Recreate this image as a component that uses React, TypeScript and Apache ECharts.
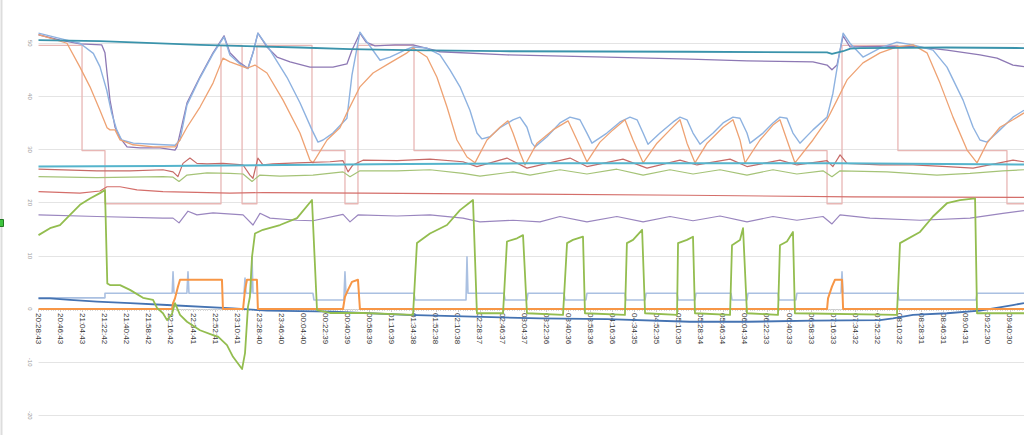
import React, { useEffect, useRef } from "react";
import * as echarts from "echarts";

const TICK_LABELS = [
  "20:28:43","20:46:43","21:04:43","21:22:42","21:40:42","21:58:42","22:16:42","22:34:41","22:52:41","23:10:41",
  "23:28:40","23:46:40","00:04:40","00:22:39","00:40:39","00:58:39","01:16:39","01:34:38","01:52:38","02:10:38",
  "02:28:37","02:46:37","03:04:37","03:22:36","03:40:36","03:58:36","04:16:36","04:34:35","04:52:35","05:10:35",
  "05:28:34","05:46:34","06:04:34","06:22:33","06:40:33","06:58:33","07:16:33","07:34:32","07:52:32","08:10:32",
  "08:28:31","08:46:31","09:04:31","09:22:30","09:40:30",
];
const TICK_STEP_MIN = 18;
const X_MAX_MIN = 803.6;

// each pair: [minutes since 20:28:43, value]
const TEAL_TOP: [number, number][] = [
  [0,50.6],[50,50.4],[131.7,49.7],[213.2,49.2],[254,48.9],[300,48.7],[376,48.5],[531,48.4],[643,48.3],
  [647,48.0],[656,48.5],[662,49.0],[670,49.1],[740,49.2],[803.6,49.1],
];

const PURPLE_TOP: [number, number][] = [
  [0,51.6],[17.5,50.6],[33.8,49.9],[51.5,49.7],[54.2,48.2],[55.9,44.4],[58.3,39.3],[62.4,34.2],[66.5,32.2],
  [72.2,30.5],[82.8,30.3],[99.1,30.3],[111.3,29.9],[112.9,30.5],[121.1,38.8],[131.7,43.7],[142.3,48.2],
  [151.3,51.4],[156.1,48.2],[164.3,46.3],[170.8,45.3],[174.9,48.2],[178.9,51.9],[186.3,49.3],[194.5,47.4],
  [205.1,46.5],[221.4,45.5],[240.1,45.5],[251.5,46.1],[255.6,48.7],[262.1,51.9],[267.1,50.2],[274.4,49.5],
  [290.7,49.7],[305.4,49.7],[327.4,48.4],[382,47.8],[463.5,47.4],[531.2,47.0],[577.7,46.7],[631.5,46.5],
  [643,45.9],[647,45.0],[651.1,45.9],[656.1,51.4],[661.7,49.3],[686.2,49.4],[713.1,49.4],[740.8,48.7],
  [767.7,47.8],[781.6,47.2],[794.6,45.9],[803.6,45.6],
];

const LIGHTBLUE_TOP: [number, number][] = [
  [0,51.9],[23,50.6],[33.8,50.0],[44.7,48.1],[50.1,45.6],[55.6,41.2],[59.7,36.8],[63.8,33.7],[67.8,31.8],
  [77.3,31.2],[93.6,31.0],[111.3,30.8],[115.4,31.8],[121.1,38.4],[131.7,43.5],[142.3,48.0],[151.3,51.2],
  [156.1,47.8],[164.3,46.1],[170.8,45.2],[174.9,48.2],[178.9,51.9],[188.8,48.7],[202.6,43.6],[213.2,38.8],
  [223,33.7],[227.9,31.4],[232,31.8],[240.1,33.1],[251.5,35.9],[255.6,44.0],[262.1,52.1],[278.5,46.8],
  [286.6,47.4],[300.5,48.9],[305.4,49.3],[316.8,49.1],[327.4,47.8],[335.5,45.0],[343.7,41.8],[351.8,37.4],
  [357.5,33.1],[361.6,32.0],[368.2,32.4],[376.3,34.1],[386.9,35.6],[392.6,36.1],[398.3,34.2],[402.4,31.2],
  [404.9,30.5],[414.6,32.4],[425.2,35.0],[433.4,36.1],[441.5,35.6],[447.2,33.1],[451.3,31.2],[463.5,33.1],
  [474.2,35.2],[482.3,36.1],[488.1,35.6],[493,33.1],[497,31.0],[506.8,33.1],[517.5,35.2],[523.1,36.1],
  [528.8,35.6],[533.7,33.1],[539.4,31.0],[550.1,33.1],[558.2,35.0],[566.3,36.1],[572,35.9],[577.7,33.1],
  [580.2,31.2],[590.8,33.1],[598.9,35.0],[604.6,36.1],[610.3,35.9],[615.2,33.1],[620.9,31.2],[631.5,33.7],
  [643,36.1],[647.8,40.6],[653.6,48.7],[656.1,51.9],[661.7,50.0],[672.3,47.4],[686.2,49.1],[700,50.2],
  [713.1,49.7],[729.4,48.7],[740.8,45.5],[753.9,39.3],[762.1,34.2],[767.7,31.8],[773.4,31.4],[784,33.7],
  [794.6,36.1],[803.6,37.4],
];

const ORANGE_TOP: [number, number][] = [
  [0,51.6],[23.2,50.0],[33.8,45.5],[42,41.8],[50.1,37.4],[55.9,34.1],[58.3,33.7],[62.4,33.7],[66.5,31.8],
  [77.1,30.9],[93.4,30.5],[111.3,30.5],[115.4,31.8],[121.1,34.2],[131.7,38.0],[142.3,42.5],[150.4,47.2],
  [156.1,46.5],[170,45.3],[176.5,45.9],[186.3,44.4],[199.4,39.3],[213.2,33.1],[221.4,28.0],[223.8,27.5],
  [235.3,31.8],[245.8,34.1],[251.5,36.9],[262.1,41.8],[272.8,44.4],[286.6,46.3],[300.5,48.2],[305.4,49.1],
  [316.8,47.4],[324.9,43.6],[333.1,38.0],[341.2,31.8],[349.4,28.6],[355.9,27.5],[365.7,31.8],[376.3,34.2],
  [382.8,35.4],[386.9,33.1],[392.6,29.4],[396.7,27.1],[406.5,31.2],[419.5,33.7],[431.8,35.4],[439.1,31.8],
  [447.2,27.7],[457.8,31.4],[468.4,33.7],[478.2,35.6],[484.8,31.8],[493,27.5],[504.3,31.2],[514.9,33.7],
  [523.1,35.6],[528.8,31.2],[535.3,27.5],[545.2,31.2],[558.2,34.2],[566.3,35.6],[572,31.8],[576.1,27.5],
  [588.3,31.8],[598.9,34.6],[604.6,35.6],[610.3,31.8],[616.8,27.5],[631.5,31.8],[643,35.6],[651.1,39.3],
  [659.3,43.1],[672.3,46.3],[686.2,48.2],[700,49.3],[713.1,49.7],[724.5,48.2],[735.1,42.5],[745.7,36.1],
  [757.2,29.9],[765.3,27.5],[773.4,31.2],[784,34.2],[794.6,35.6],[803.6,36.9],
];

const PINK_STEP: [number, number][] = [
  [0,49.6],[35.5,49.6],[35.5,29.8],[54.2,29.8],[54.2,19.8],[148.8,19.8],[148.8,49.6],[166,49.6],[166,19.8],
  [178.1,19.8],[178.1,49.6],[223,49.6],[223,29.8],[249.9,29.8],[249.9,19.8],[260.5,19.8],[260.5,49.6],
  [306.2,49.6],[306.2,29.8],[643,29.8],[643,19.8],[655.2,19.8],[655.2,49.6],[700.8,49.6],[700.8,29.8],
  [789.7,29.8],[789.7,19.8],[803.6,19.8],
];

const TEAL_MID: [number, number][] = [
  [0,26.8],[100,26.9],[200,27.1],[300,27.3],[400,27.4],[520,27.4],[650,27.4],[803.6,27.2],
];

const RED_MID: [number, number][] = [
  [0,26.3],[47.7,26.0],[74.6,26.0],[101.5,26.2],[109.7,25.8],[113.7,24.9],[117.8,27.4],[123.5,28.4],
  [129.2,27.4],[137.4,27.3],[150.4,27.4],[166.8,27.1],[172.4,25.2],[174.9,24.6],[178.9,28.4],[183,27.1],
  [191.2,27.3],[210.8,27.5],[237.7,27.7],[248.3,27.9],[252.4,25.8],[256.4,27.1],[264.6,28.0],[292.3,27.9],
  [319.2,28.2],[346.1,27.7],[357.5,26.8],[382,28.4],[398.3,26.5],[433.4,28.4],[447.2,26.8],[476.6,28.2],
  [496.2,26.5],[523.1,28.0],[536.9,27.1],[563.9,28.2],[577.7,26.8],[604.6,28.0],[618.4,27.1],[643,27.9],
  [647.8,26.8],[653.6,29.0],[659.3,27.4],[686.2,27.1],[713.1,27.1],[740.8,26.8],[762.1,26.5],[781.6,27.4],
  [794.6,28.0],[803.6,27.7],
];

const GREEN_MID: [number, number][] = [
  [0,24.9],[47.7,24.7],[101.5,24.9],[109.7,24.8],[114.6,24.0],[121.1,25.2],[137.4,25.6],[156.1,25.5],
  [166.8,25.4],[174.1,24.0],[180.6,25.2],[196.9,25.0],[223.8,25.2],[248.3,25.8],[254,24.9],[262.1,26.0],
  [292.3,26.0],[319.2,26.2],[346.1,25.5],[360,25.0],[386.9,25.8],[400.8,25.2],[425.2,26.2],[447.2,25.4],
  [471.6,26.3],[493,25.2],[514.9,26.2],[533.7,25.4],[555.7,26.2],[577.7,25.2],[598.9,26.2],[618.4,25.4],
  [639.7,26.0],[647,24.9],[653.6,26.0],[691.9,25.8],[732.6,25.2],[759.6,25.5],[786.4,26.0],[803.6,26.2],
];

const RED_LOW: [number, number][] = [
  [0,22.1],[33.8,21.8],[50.1,22.2],[55.9,23.0],[66.5,23.0],[80.3,22.4],[101.5,22.1],[156.1,21.8],
  [183,21.9],[264.6,21.8],[400.8,21.6],[528.8,21.4],[664.2,21.1],[803.6,21.0],
];

const PURPLE_LOW: [number, number][] = [
  [0,17.7],[47.7,17.4],[101.5,17.1],[109.7,17.1],[114.6,16.2],[121.9,18.4],[129.2,17.7],[142.3,18.1],
  [166.8,17.7],[174.9,15.8],[180.6,18.0],[188.8,17.1],[210.8,16.7],[223.8,16.6],[248.3,17.8],[254,16.4],
  [260.5,17.7],[292.3,17.5],[319.2,17.7],[346.1,17.1],[360,16.4],[386.9,16.7],[408.9,16.4],[425.2,17.4],
  [447.2,16.4],[471.6,17.4],[493,16.4],[514.9,17.4],[533.7,16.6],[555.7,17.5],[577.7,16.4],[598.9,17.4],
  [618.4,16.7],[639.7,17.4],[647,16.0],[653.6,17.7],[678,17.1],[718.8,16.7],[759.6,17.1],[786.4,18.0],
  [803.6,18.5],
];

const GREEN_STRONG: [number, number][] = [
  [0,13.9],[9.4,15.2],[17.5,15.8],[25.7,17.7],[33.8,19.6],[42,20.8],[50.1,21.8],[54.2,22.4],[56.1,4.8],
  [58.3,4.5],[66.5,4.5],[74.6,3.6],[85.2,2.1],[93.4,1.7],[96.6,0.2],[101.5,-0.8],[104.8,-2.1],[108.9,-0.9],
  [111.3,1.1],[115.4,-1.1],[121.1,-2.4],[131.7,-4.0],[142.3,-4.9],[146.4,-5.2],[153.7,-6.8],[158.6,-9.0],
  [166,-11.3],[168.4,-8.3],[170.8,0.4],[172.4,2.3],[174.1,9.8],[176.5,14.2],[183,14.9],[196.9,15.8],
  [210.8,17.1],[223,20.5],[227.1,-0.2],[237.7,-0.75],[264.6,-0.75],[305.4,-1.1],[308.6,12.4],[319.2,14.2],
  [333.1,15.8],[343.7,18.6],[354.3,20.5],[357.5,-0.8],[378.8,-0.8],[382,12.7],[390.2,13.3],[395.1,13.9],
  [398.3,-0.8],[427.7,-1.1],[431,12.4],[435.8,13.0],[444,13.6],[445.6,-0.8],[478.2,-1.1],[479.8,12.4],
  [484.8,13.0],[492.2,14.9],[494.6,-0.8],[520.7,-1.1],[521.5,12.4],[528.8,13.0],[533.7,13.6],[535.3,-0.8],
  [563.9,-1.1],[565.5,12.0],[572,13.0],[574.5,15.2],[577.7,-0.8],[603,-1.1],[604.6,12.0],[610.3,12.7],
  [615.2,14.5],[616.8,-0.8],[700,-1.1],[702.5,12.4],[718.8,14.5],[729.4,17.4],[740.8,19.9],[751.4,20.5],
  [763.7,20.8],[765.3,-0.8],[803.6,-0.8],
];

const LIGHTBLUE_STEP: [number, number][] = [
  [0,2.1],[54.2,2.1],[54.2,2.95],[109,2.95],[109.7,7.0],[110.5,2.95],[121,2.95],[121.9,7.0],[122.7,2.95],
  [167.6,2.95],[168.4,5.8],[169.2,2.95],[173.3,2.95],[174.1,9.8],[174.9,2.95],[223.8,2.95],[224.6,1.7],
  [249,1.7],[249.9,7.0],[250.7,2.95],[306.2,2.95],[307,1.7],[348.6,1.7],[349.4,9.8],[350.2,2.95],
  [379.6,2.95],[380.4,1.7],[398.3,1.7],[399.1,2.95],[428.5,2.95],[429.3,1.7],[446.4,1.7],[447.2,2.95],
  [478.2,2.95],[479,1.7],[494.6,1.7],[495.4,2.95],[520.7,2.95],[521.5,1.7],[535.3,1.7],[536.1,2.95],
  [564.7,2.95],[565.5,1.7],[577.7,1.7],[578.5,2.95],[603,2.95],[603.8,1.7],[617.6,1.7],[618.4,2.95],
  [654.4,2.95],[655.2,7.0],[656,2.95],[700.8,2.95],[701.6,1.7],[764.5,1.7],[765.3,2.95],[803.6,2.95],
];

const ORANGE_STRONG: [number, number][] = [
  [0,0],[108.9,0],[109.7,1.1],[111.3,2.0],[113.7,4.2],[115.4,5.5],[149.6,5.5],[150.4,0],[166.8,0],
  [168.4,3.6],[170,5.5],[178.1,5.5],[178.9,0],[248.3,0],[249.9,2.3],[252.4,3.6],[255.6,5.1],[260.5,5.5],
  [262.1,0],[643,0],[643.8,2.0],[647,4.2],[649.4,5.5],[655.2,5.5],[656.1,0],[803.6,0],
];

const DARKBLUE_LOW: [number, number][] = [
  [0,2.0],[9.4,2.0],[25.7,1.7],[47.7,1.4],[74.6,1.1],[104.8,0.75],[158.6,0.1],[186.3,-0.3],[240.1,-0.5],
  [300.5,-1.1],[354.3,-1.45],[408.9,-1.75],[463.5,-1.9],[531.2,-2.4],[577.7,-2.4],[631.5,-2.2],[686.2,-2.1],
  [696.8,-1.75],[713.1,-1.1],[740.8,-0.8],[767.7,-0.3],[794.6,0.75],[803.6,1.1],
];

const SERIES_DEFS: { name: string; data: [number, number][]; color: string; width: number }[] = [
  { name: "pink", data: PINK_STEP, color: "#e8b7b5", width: 1.3 },
  { name: "purpleTop", data: PURPLE_TOP, color: "#8d78b4", width: 1.3 },
  { name: "lightBlueTop", data: LIGHTBLUE_TOP, color: "#8eb2e0", width: 1.4 },
  { name: "orangeTop", data: ORANGE_TOP, color: "#eea273", width: 1.3 },
  { name: "tealTop", data: TEAL_TOP, color: "#3a93ab", width: 1.8 },
  { name: "redMid", data: RED_MID, color: "#c66a67", width: 1.2 },
  { name: "greenMid", data: GREEN_MID, color: "#a5c377", width: 1.2 },
  { name: "tealMid", data: TEAL_MID, color: "#55b4cc", width: 2 },
  { name: "redLow", data: RED_LOW, color: "#d46e6a", width: 1.2 },
  { name: "purpleLow", data: PURPLE_LOW, color: "#9a86bf", width: 1.2 },
  { name: "lightBlueStep", data: LIGHTBLUE_STEP, color: "#aac0e1", width: 1.6 },
  { name: "darkBlueLow", data: DARKBLUE_LOW, color: "#4573b2", width: 1.8 },
  { name: "orangeStrong", data: ORANGE_STRONG, color: "#f79646", width: 2 },
  { name: "greenStrong", data: GREEN_STRONG, color: "#93bd4f", width: 1.8 },
];

// distance (px) from the grid's bottom edge (value -20) up to value 0
const X_AXIS_LIFT = 106.3;

export default function App() {
  const ref = useRef<HTMLDivElement>(null);
  useEffect(() => {
    if (!ref.current) return;
    const chart = echarts.init(ref.current, null, { renderer: "svg" });
    chart.setOption({
      animation: false,
      backgroundColor: "#ffffff",
      grid: { left: 38.5, right: 0, top: -9.9, bottom: 19.7, containLabel: false, outerBoundsMode: "none" },
      xAxis: {
        type: "value",
        position: "bottom",
        offset: -X_AXIS_LIFT,
        min: 0,
        max: X_MAX_MIN,
        interval: TICK_STEP_MIN,
        axisLine: { onZero: false, lineStyle: { color: "#cccccc" } },
        axisTick: { show: true, length: 3, lineStyle: { color: "#cccccc" } },
        minorTick: { show: true, splitNumber: 9, length: 2, lineStyle: { color: "#d8d8d8" } },
        splitLine: { show: false },
        axisLabel: {
          rotate: -90,
          margin: 4,
          fontSize: 8,
          color: "#333333",
          hideOverlap: false,
          fontFamily: "Liberation Sans, Arial, sans-serif",
          formatter: (v: number) => {
            const i = Math.round(v / TICK_STEP_MIN);
            if (Math.abs(i * TICK_STEP_MIN - v) > 0.01) return "";
            return TICK_LABELS[i] ?? "";
          },
        },
      },
      yAxis: {
        type: "value",
        min: -20,
        max: 60,
        interval: 10,
        axisLine: { show: false },
        axisTick: { show: false },
        splitLine: { lineStyle: { color: "#e4e4e4", width: 1 } },
        axisLabel: {
          rotate: -90,
          margin: 6,
          fontSize: 6,
          color: "#999999",
          showMaxLabel: false,
          fontFamily: "Liberation Sans, Arial, sans-serif",
        },
      },
      series: SERIES_DEFS.map((s) => ({
        name: s.name,
        type: "line",
        data: s.data,
        showSymbol: false,
        symbol: "none",
        lineStyle: { color: s.color, width: s.width, join: "round" },
        itemStyle: { color: s.color },
        emphasis: { disabled: true },
        silent: true,
      })),
      graphic: [
        { type: "line", shape: { x1: 1.5, y1: 0, x2: 1.5, y2: 435 }, style: { stroke: "#dddddd", lineWidth: 2 }, silent: true },
        { type: "rect", shape: { x: -4, y: 219.5, width: 7.5, height: 7 }, style: { fill: "#3ec43e", stroke: "#237a23", lineWidth: 1 }, silent: true },
      ],
    });
    return () => chart.dispose();
  }, []);
  return (
    <div
      ref={ref}
      style={{ position: "absolute", left: 0, top: 0, width: 1024, height: 435, background: "#fff" }}
    />
  );
}
